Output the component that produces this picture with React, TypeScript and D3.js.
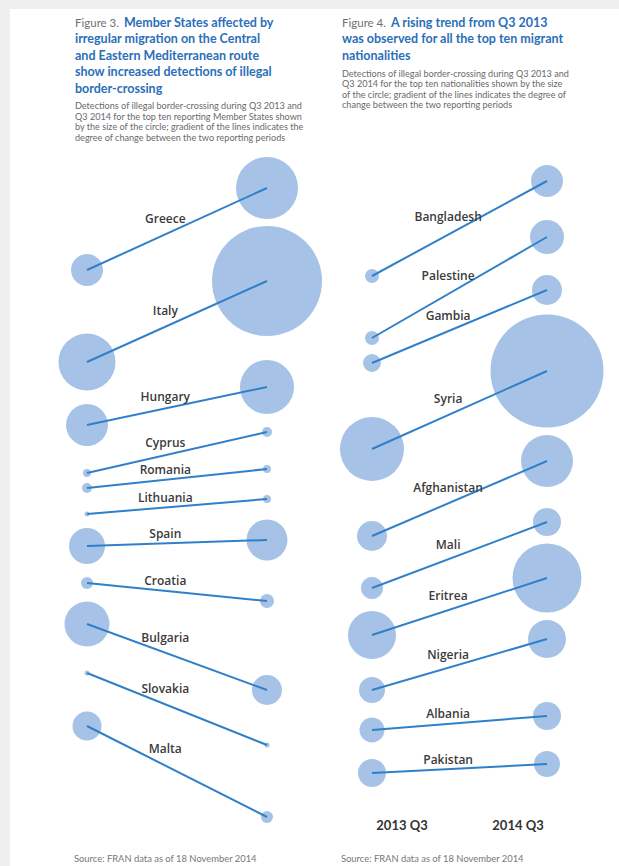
import React from "react";
import * as d3 from "d3";

// ---------- data ----------
const periods = ["2013 Q3", "2014 Q3"];

const memberStates = ["Greece", "Italy", "Hungary", "Cyprus", "Romania", "Lithuania", "Spain", "Croatia", "Bulgaria", "Slovakia", "Malta"];
const msDetections2013 = [6500, 20700, 11200, 400, 640, 100, 8250, 920, 12900, 100, 5350];
const msDetections2014 = [24500, 77000, 18600, 640, 400, 400, 10700, 1250, 5730, 100, 920];
const msLevel2013 = [12.0, 21.2, 27.5, 32.3, 33.8, 36.4, 39.6, 43.3, 47.4, 52.3, 57.6];
const msLevel2014 = [3.8, 13.1, 23.7, 28.2, 31.9, 34.9, 39.0, 45.1, 54.0, 59.5, 66.7];

const nationalities = ["Bangladesh", "Palestine", "Gambia", "Syria", "Afghanistan", "Mali", "Eritrea", "Nigeria", "Albania", "Pakistan"];
const natDetections2013 = [1250, 1250, 2060, 26100, 5730, 3080, 14700, 4300, 3980, 4990];
const natDetections2014 = [6500, 7360, 5730, 81300, 17200, 4990, 30300, 9190, 4990, 4300];
const natLevel2013 = [12.6, 18.8, 21.3, 29.9, 38.6, 43.8, 48.5, 54.0, 58.0, 62.3];
const natLevel2014 = [3.1, 8.7, 14.0, 22.1, 31.1, 37.2, 42.8, 48.9, 56.6, 61.4];

const fig3Title = ["Member States affected by", "irregular migration on the Central", "and Eastern Mediterranean route", "show increased detections of illegal", "border-crossing"];
const fig3Sub = [
  "Detections of illegal border-crossing during Q3 2013 and",
  "Q3 2014 for the top ten reporting Member States shown",
  "by the size of the circle; gradient of the lines indicates the",
  "degree of change between the two reporting periods",
];
const fig4Title = ["A rising trend from Q3 2013", "was observed for all the top ten migrant", "nationalities"];
const fig4Sub = [
  "Detections of illegal border-crossing during Q3 2013 and",
  "Q3 2014 for the top ten nationalities shown by the size",
  "of the circle; gradient of the lines indicates the degree of",
  "change between the two reporting periods",
];
const sourceText = "Source: FRAN data as of 18 November 2014";

// ---------- styles ----------
const W = 619;
const H = 866;
const CIRCLE = "#a6c3e7";
const LINE = "#2f80c8";
const BLUE = "#2a6fb8";
const FONT = "Lato, 'Open Sans', sans-serif";

const y = d3.scaleLinear().domain([0, 70]).range([150, 850]);
const r = d3.scaleSqrt().domain([0, 77000]).range([0, 55]);

type SlopeProps = {
  names: string[];
  d13: number[];
  d14: number[];
  l13: number[];
  l14: number[];
  x0: number;
  x1: number;
};

function Slopes({ names, d13, d14, l13, l14, x0, x1 }: SlopeProps) {
  const x = d3.scalePoint<string>().domain(periods).range([x0, x1]);
  const xa = x(periods[0])!;
  const xb = x(periods[1])!;
  const rows = names.map((n, i) => ({
    name: n,
    ya: y(l13[i]),
    yb: y(l14[i]),
    ra: r(d13[i]),
    rb: r(d14[i]),
  }));
  const labelX = xa + 0.435 * (xb - xa);
  return (
    <g>
      {rows.map((d) => (
        <g key={d.name + "c"}>
          <circle cx={xa} cy={d.ya} r={Math.max(d.ra, 2.5)} fill={CIRCLE} />
          <circle cx={xb} cy={d.yb} r={Math.max(d.rb, 2.5)} fill={CIRCLE} />
        </g>
      ))}
      {rows.map((d) => (
        <line key={d.name + "l"} x1={xa} y1={d.ya} x2={xb} y2={d.yb} stroke={LINE} strokeWidth={2} />
      ))}
      {rows.map((d) => {
        const slope = (d.yb - d.ya) / (xb - xa);
        const t = (labelX - xa) / (xb - xa);
        const ly = d.ya + t * (d.yb - d.ya) - (9 + 16 * Math.abs(slope));
        return (
          <text
            key={d.name + "t"}
            x={labelX}
            y={ly}
            textAnchor="middle"
            dominantBaseline="central"
            fontFamily="'Open Sans', sans-serif"
            fontWeight={600}
            fontSize={12}
            fill="#3b3b3b"
          >
            {d.name}
          </text>
        );
      })}
    </g>
  );
}

function Header({ x, fig, title, sub, subTop }: { x: number; fig: string; title: string[]; sub: string[]; subTop: number }) {
  return (
    <g fontFamily={FONT}>
      {title.map((t, i) => (
        <text key={i} x={x} y={26.5 + i * 16.6} fontSize={12.5} fill={BLUE} fontWeight={700}>
          {i === 0 ? (
            <>
              <tspan fill="#707070" fontWeight={400} fontSize={11.5}>{fig}</tspan>
              <tspan dx={5}>{t}</tspan>
            </>
          ) : (
            t
          )}
        </text>
      ))}
      {sub.map((t, i) => (
        <text key={"s" + i} x={x} y={subTop + i * 10.6} fontSize={9.1} fill="#6a6a6a">
          {t}
        </text>
      ))}
    </g>
  );
}

export default function App() {
  return (
    <svg width={W} height={H} style={{ position: "absolute", left: 0, top: 0 }}>
      <rect x={0} y={0} width={W} height={H} fill="#efefef" />
      <rect x={10} y={9} width={W - 10} height={H - 9} fill="#ffffff" />
      <Header x={75} fig="Figure 3." title={fig3Title} sub={fig3Sub} subTop={109} />
      <Header x={342} fig="Figure 4." title={fig4Title} sub={fig4Sub} subTop={76.5} />
      <Slopes names={memberStates} d13={msDetections2013} d14={msDetections2014} l13={msLevel2013} l14={msLevel2014} x0={87} x1={267} />
      <Slopes names={nationalities} d13={natDetections2013} d14={natDetections2014} l13={natLevel2013} l14={natLevel2014} x0={372} x1={547} />
      {periods.map((p, i) => (
        <text key={p} x={i === 0 ? 402 : 518} y={830} textAnchor="middle" fontFamily={FONT} fontWeight={700} fontSize={13} fill="#333">
          {p}
        </text>
      ))}
      <text x={74} y={862} fontFamily={FONT} fontSize={9.4} fill="#777">{sourceText}</text>
      <text x={341} y={862} fontFamily={FONT} fontSize={9.4} fill="#777">{sourceText}</text>
    </svg>
  );
}
